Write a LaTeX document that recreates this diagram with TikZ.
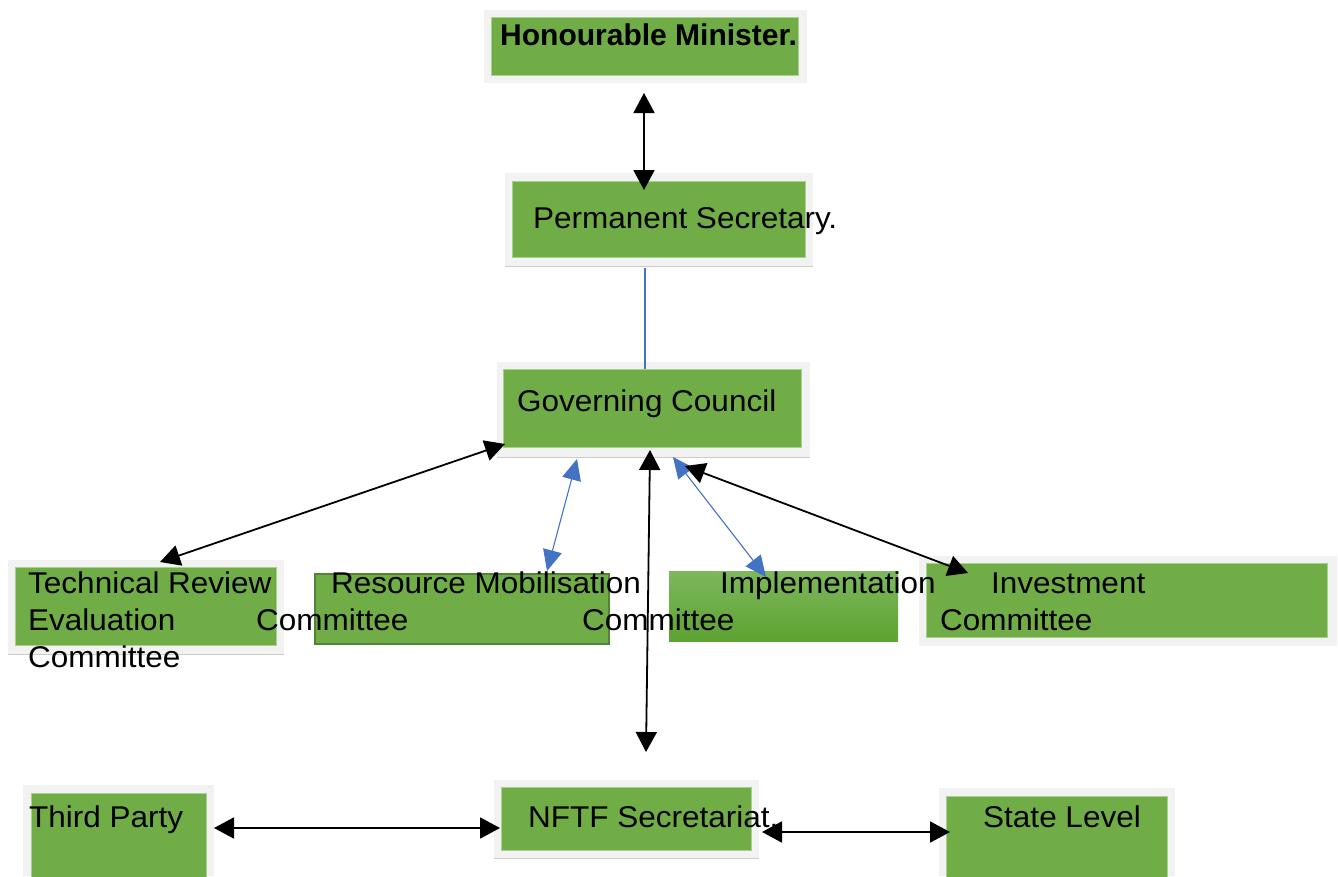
\documentclass[tikz,border=0pt]{standalone}
\usepackage{fontspec}
\setmainfont{Liberation Sans}[FakeStretch=1.05]
\newfontfamily\plainfont{Liberation Sans}
\usetikzlibrary{arrows.meta,fit}
\definecolor{boxgreen}{HTML}{70AD47}
\definecolor{framegray}{HTML}{F2F2F2}
\definecolor{edgegreen}{HTML}{A9D18E}
\definecolor{darkgreen}{HTML}{548235}
\definecolor{linkblue}{HTML}{4472C4}
\definecolor{shadowgray}{HTML}{CCCCCC}
\definecolor{gradtop}{HTML}{7DB85C}
\definecolor{gradbot}{HTML}{5EA232}
\begin{document}
\begin{tikzpicture}[x=1pt,y=-1pt,
  framebox/.style={inner sep=0pt, fill=framegray, draw=none},
  greenbox/.style={inner sep=0pt, fill=boxgreen, draw=edgegreen, line width=0.8pt},
  shadowln/.style={draw=shadowgray, line width=1.2pt},
  lbl/.style={font=\fontsize{30}{36}\selectfont, inner sep=0pt, anchor=base west, text=black},
  blk/.style={line width=1.8pt, black, {Triangle[length=20pt,width=21pt]}-{Triangle[length=20pt,width=21pt]}},
  blu/.style={line width=1.1pt, linkblue, {Triangle[length=21pt,width=19pt]}-{Triangle[length=21pt,width=19pt]}},
  bluline/.style={line width=1.1pt, linkblue}]
\useasboundingbox (0,0) rectangle (1338,876);

% Honourable Minister
\node[framebox, fit={(484,10) (807,83)}] (minF) {};
\node[greenbox, fit={(491,17) (798,75)}] (min) {};
% Permanent Secretary
\node[framebox, fit={(505,173) (813,266)}] (psF) {};
\draw[shadowln] (psF.south west) -- (psF.south east);
\node[greenbox, fit={(512,181) (805,257)}] (ps) {};
% Governing Council
\node[framebox, fit={(497,362) (810,457)}] (gcF) {};
\draw[shadowln] (gcF.south west) -- (gcF.south east);
\node[greenbox, fit={(503,369) (801,447)}] (gc) {};
% Technical Review
\node[framebox, fit={(8,560) (284,654)}] (trF) {};
\draw[shadowln] (trF.south west) -- (trF.south east);
\node[greenbox, fit={(15,567) (276,645)}] (tr) {};
% Resource Mobilisation
\node[inner sep=0pt, fill=boxgreen, draw=darkgreen, line width=2pt, fit={(315,574) (609,644)}] (rm) {};
% Implementation
\node[inner sep=0pt, top color=gradtop, bottom color=gradbot, draw=none, fit={(669,571) (898,641)}] (im) {};
% Investment
\node[framebox, fit={(919,556) (1337,646)}] (ivF) {};
\node[greenbox, fit={(926,563) (1327,637)}] (iv) {};
% Third Party
\node[framebox, fit={(23,785) (214,876)}] (tpF) {};
\node[greenbox, fit={(31,793) (206,880)}] (tp) {};
% NFTF Secretariat
\node[framebox, fit={(494,780) (759,858)}] (nfF) {};
\draw[shadowln] (nfF.south west) -- (nfF.south east);
\node[greenbox, fit={(501,787) (751,850)}] (nf) {};
% State Level
\node[framebox, fit={(939,788) (1175,876)}] (slF) {};
\node[greenbox, fit={(946,796) (1167,880)}] (sl) {};

% Texts
\node[lbl] (tmin) at (500,45) {\plainfont\bfseries Honourable Minister.};
\node[lbl] (tps) at (533,228) {Permanent Secretary.};
\node[lbl] (tgc) at (517,411) {Governing Council};
\node[lbl] (ttr1) at (28,593) {Technical Review};
\node[lbl] (ttr2) at (28,630) {Evaluation};
\node[lbl] (ttr3) at (28,667) {Committee};
\node[lbl] (trm1) at (331,593) {Resource Mobilisation};
\node[lbl] (trm2) at (256,630) {Committee};
\node[lbl] (tim1) at (720,593) {Implementation};
\node[lbl] (tim2) at (582,630) {Committee};
\node[lbl] (tiv1) at (991,593) {Investment};
\node[lbl] (tiv2) at (940,630) {Committee};
\node[lbl] (ttp) at (29,827) {Third Party};
\node[lbl] (tnf) at (528,827) {NFTF Secretariat.};
\node[lbl] (tsl) at (983,827) {State Level};

% Connector end points
\coordinate (minB) at (644,93);
\coordinate (psT) at (644,190);
\coordinate (psB) at (645,268);
\coordinate (gcT) at (645,369);
\coordinate (gcTR) at (505,444);
\coordinate (trT) at (160,562);
\coordinate (gcRM) at (577,459);
\coordinate (rmT) at (547,571);
\coordinate (gcNF) at (650,450);
\coordinate (nfT) at (646,752);
\coordinate (gcIM) at (673,457);
\coordinate (imT) at (766,577);
\coordinate (gcIV) at (685,466);
\coordinate (ivT) at (968,573);
\coordinate (tpR) at (214,828);
\coordinate (nfL) at (500,828);
\coordinate (nfR) at (762,832);
\coordinate (slL) at (950,832);

% Connectors
\draw[blk] (minB) -- (psT);
\draw[bluline] (psB) -- (gcT);
\draw[blk] (gcTR) -- (trT);
\draw[blu] (gcRM) -- (rmT);
\draw[blk] (gcNF) -- (nfT);
\draw[blu] (gcIM) -- (imT);
\draw[blk] (gcIV) -- (ivT);
\draw[blk] (tpR) -- (nfL);
\draw[blk] (nfR) -- (slL);
\end{tikzpicture}
\end{document}
